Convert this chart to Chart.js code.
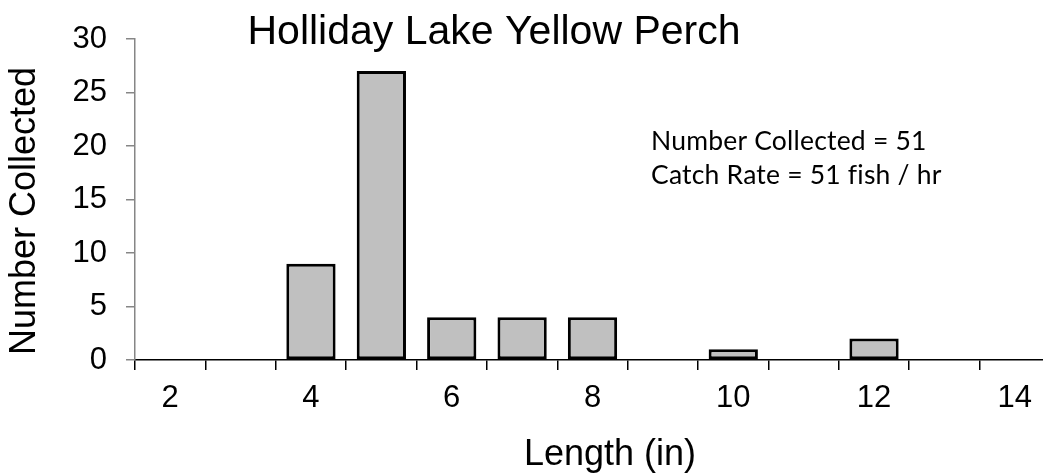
<!DOCTYPE html>
<html>
<head>
<meta charset="utf-8">
<script src="https://cdn.jsdelivr.net/npm/chart.js@4"></script>
<style>
  html, body { margin: 0; padding: 0; background: #fff; overflow: hidden; }
  #wrap { width: 1060px; height: 473px; position: relative; }
</style>
</head>
<body>
<div id="wrap"><canvas id="chart"></canvas></div>
<script>
// data
const lengths = ["2", "3", "4", "5", "6", "7", "8", "9", "10", "11", "12", "13", "14"];
const counts = [0, 0, 9, 27, 4, 4, 4, 0, 1, 0, 2, 0, 0];
const yTicks = [0, 5, 10, 15, 20, 25, 30];

const chartTitle = "Holliday Lake Yellow Perch";
const xTitle = "Length (in)";
const yTitle = "Number Collected";
const noteLines = ["Number Collected = 51", "Catch Rate = 51 fish / hr"];

// titles and the note box, drawn by hand so they sit where the original has them
const textPlugin = {
  id: "texts",
  afterDraw(chart) {
    const c = chart.ctx;
    c.save();
    c.fillStyle = "#000";
    c.textBaseline = "alphabetic";

    c.font = "41px 'Liberation Sans', Arial, sans-serif";
    c.textAlign = "center";
    c.fillText(chartTitle, 494, 44);

    c.font = "36px 'Liberation Sans', Arial, sans-serif";
    c.fillText(xTitle, 610, 465);

    c.save();
    c.translate(35, 211);
    c.rotate(-Math.PI / 2);
    c.fillText(yTitle, 0, 0);
    c.restore();

    c.font = "26.5px Lato, 'Noto Sans', sans-serif";
    c.textAlign = "left";
    c.letterSpacing = "0.2px"; // keeps "fi" from turning into a ligature
    noteLines.forEach((line, i) => c.fillText(line, 651, 150 + i * 34));
    c.restore();
  }
};

const ctx = document.getElementById("chart");

new Chart(ctx, {
  type: "bar",
  data: {
    labels: lengths,
    datasets: [
      {
        label: "Number Collected",
        data: counts,
        backgroundColor: "#c0c0c0",
        borderColor: "#000",
        borderWidth: 3,
        borderSkipped: false,
        barPercentage: 0.7,
        categoryPercentage: 1.0,
      },
    ],
  },
  options: {
    responsive: true,
    maintainAspectRatio: false,
    animation: false,
    layout: { padding: { top: 39, right: 10, left: 0, bottom: 0 } },
    plugins: {
      legend: { display: false },
      tooltip: { enabled: false },
    },
    scales: {
      x: {
        offset: true,
        grid: {
          offset: true,
          drawOnChartArea: false,
          drawTicks: true,
          tickLength: 10,
          color: "#000",
          lineWidth: 1.5,
        },
        border: { color: "#000", width: 1.5 },
        ticks: {
          autoSkip: false,
          maxRotation: 0,
          padding: 10,
          color: "#000",
          font: { family: "'Liberation Sans', Arial, sans-serif", size: 31 },
          callback: function (value, index) {
            const lab = lengths[index];
            return Number(lab) % 2 === 0 ? lab : "";
          },
        },
        afterFit: (scale) => { scale.height = 113; },
      },
      y: {
        min: 0,
        max: 30,
        afterBuildTicks: (scale) => { scale.ticks = yTicks.map((v) => ({ value: v })); },
        grid: {
          drawOnChartArea: false,
          drawTicks: true,
          tickLength: 9,
          color: "#868686",
          lineWidth: 1.5,
        },
        border: { color: "#868686", width: 1.5 },
        ticks: {
          padding: 19,
          color: "#000",
          font: { family: "'Liberation Sans', Arial, sans-serif", size: 31 },
        },
        afterFit: (scale) => { scale.width = 135; },
      },
    },
  },
  plugins: [textPlugin],
});
</script>
</body>
</html>
